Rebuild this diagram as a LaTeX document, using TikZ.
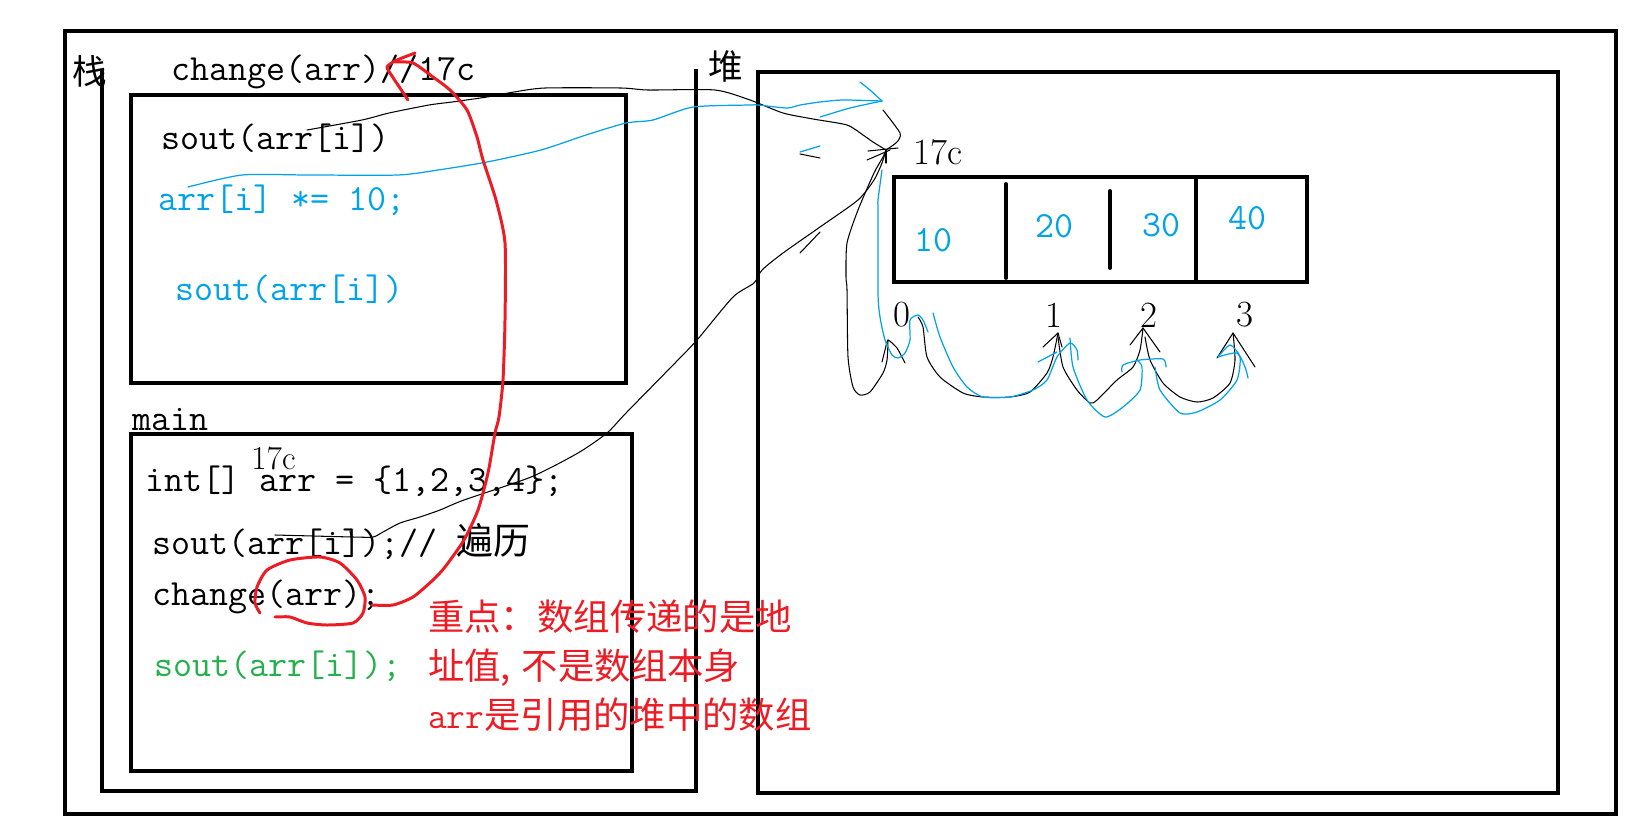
\documentclass[tikz,border=0pt]{standalone}
\usepackage{fontspec}
\newfontfamily\cjk{Noto Sans CJK SC}
\usetikzlibrary{positioning}
\definecolor{paintblue}{HTML}{00A2E8}
\definecolor{paintgreen}{HTML}{22B14C}
\definecolor{paintred}{HTML}{ED1C24}
\newcommand{\codefont}{\fontsize{21pt}{25pt}\selectfont\ttfamily}
\newcommand{\romanfont}{\fontsize{21pt}{25pt}\selectfont\rmfamily}

\begin{document}
\begin{tikzpicture}[
    x=0.02cm, y=-0.02cm,
    frame/.style={line width=2.5pt},
    cellbar/.style={line width=2.2pt, line cap=round},
    code/.style={font=\codefont, anchor=base west, inner sep=0pt},
    digit/.style={font=\codefont, inner sep=0pt},
    index/.style={font=\romanfont, inner sep=0pt},
    hanzi/.style={font=\fontsize{19.7pt}{22pt}\selectfont\cjk, inner sep=0pt},
    note/.style={font=\fontsize{20.7pt}{24pt}\selectfont\ttfamily, text=paintred, anchor=base west, inner sep=0pt},
    pen/.style={line width=0.6pt, line join=round, line cap=round},
    bluepen/.style={pen, paintblue, line width=0.7pt},
    redpen/.style={line width=1.7pt, paintred, line join=round, line cap=round}
]
    \useasboundingbox (0,0) rectangle (1652,829);
    \fill[white] (0,0) rectangle (1652,829);

    % Frames
    \draw[frame] (65,31) rectangle (1616,814);
    \draw[frame] (102,70) -- (102,791) -- (696,791) -- (696,69);
    \draw[frame] (758,72) rectangle (1558,793);
    \draw[frame] (131,95) rectangle (626,383);
    \draw[frame] (131,434) rectangle (632,771);

    % Labels
    \node[hanzi] (stack) at (90,71.5) {栈};
    \node[hanzi] (heap) at (726,66) {堆};
    \node[code] (callsig) at (171,80) {change(arr)//17c};
    \node[code] (mainlbl) at (132.6,430) {main};

    % change() body
    \node[code] (soutA) at (161,149) {sout(arr[i])};
    \node[code, text=paintblue] (times) at (158,210.7) {arr[i] *= 10;};
    \node[code, text=paintblue] (soutB) at (175,300) {sout(arr[i])};

    % main() body
    \node[index, anchor=base west, font=\fontsize{19pt}{22pt}\selectfont\rmfamily] (addrmain) at (251,469) {17c};
    \node[code] (decl) at (145.5,491.7) {int[] arr = \{1,2,3,4\};};
    \node[code] (loop) at (152.6,554) {sout(arr[i]);// {\cjk 遍历}};
    \node[code] (call) at (151.7,605) {change(arr);};
    \node[code, text=paintgreen] (soutC) at (154,676.7) {sout(arr[i]);};

    % Note
    \node[note] (noteA) at (427.8,630) {{\cjk 重点：数组传递的是地}};
    \node[note] (noteB) at (427.8,679) {{\cjk 址值,\kern0.3em 不是数组本身}};
    \node[note] (noteC) at (427.8,728) {arr{\cjk 是引用的堆中的数组}};

    % Array in the heap
    \draw[frame] (894,177) rectangle (1307,282);
    \draw[cellbar] (1006,184) -- (1006,278);
    \draw[cellbar] (1110,191) -- (1110,268);
    \draw[cellbar] (1196,177) -- (1196,282);
    \node[index, anchor=base west] (addrheap) at (913,164) {17c};
    \node[digit, text=paintblue] (v0) at (933.6,240) {10};
    \node[digit, text=paintblue] (v1) at (1054.8,226.7) {20};
    \node[digit, text=paintblue] (v2) at (1161.4,225) {30};
    \node[digit, text=paintblue] (v3) at (1247.7,218.3) {40};
    \node[index] (i0) at (902,315) {0};
    \node[index] (i1) at (1054,315) {1};
    \node[index] (i2) at (1149,315) {2};
    \node[index] (i3) at (1245,315) {3};

    \coordinate (addr) at (886,150);

    % Black pointer lines
    \draw[pen] plot[smooth, tension=0.4] coordinates {(275,535) (353,537) (373,537) (383,532) (400,523) (420,517) (440,510) (464,500) (531,477) (578,453) (607,433) (626,413) (675,363) (697,340) (733,297) (754,283) (762,270) (783,253) (820,227) (858,200) (874,180) (882,163) (addr)};
    \draw[pen] (350,531) -- (352,542);
    \draw[pen] plot[smooth, tension=0.4] coordinates {(307,130) (362,120) (389,113) (429,105) (452,102) (487,97) (514,92) (545,88) (621,88) (648,90) (715,90) (750,100) (783,113) (813,119) (847,125) (863,135) (873,142) (addr)};
    \draw[pen] plot[smooth, tension=0.4] coordinates {(883,110) (900,133) (897,142) (addr)};
    \draw[pen] (868,151) -- (898,148);
    \draw[pen] (886,150) -- (886,163);
    \draw[pen] (867,160) -- (890,150);
    \draw[pen] (800,154) -- (820,158);
    \draw[pen] (800,253) -- (820,232);

    % Black index arcs
    \draw[pen] plot[smooth, tension=0.4] coordinates {(addr) (883,157) (874,173) (858,210) (847,243) (846,277) (847,290) (848,357) (853,387) (860,395) (870,392) (883,373) (887,360) (888,340)};
    \draw[pen] plot[smooth, tension=0.3] coordinates {(882,362) (885,350) (888,340) (897,348) (905,363)};
    \draw[pen] plot[smooth, tension=0.4] coordinates {(918,317) (923,327) (927,357) (940,377) (963,393) (983,397) (1010,397) (1030,392) (1047,373) (1053,357) (1058,333)};
    \draw[pen] (1043,347) -- (1058,333) -- (1062,347);
    \draw[pen] plot[smooth, tension=0.4] coordinates {(1058,337) (1063,367) (1077,390) (1090,403) (1097,400) (1117,380) (1133,367) (1140,350) (1143,328)};
    \draw[pen] (1130,345) -- (1143,328) -- (1160,352);
    \draw[pen] plot[smooth, tension=0.4] coordinates {(1145,337) (1150,360) (1163,383) (1180,397) (1197,402) (1213,398) (1230,383) (1235,360) (1233,333)};
    \draw[pen] (1217,358) -- (1233,333) -- (1255,367);

    % Blue pointer line
    \draw[bluepen] plot[smooth, tension=0.4] coordinates {(188,187) (242,175) (309,175) (398,175) (438,170) (487,162) (541,150) (586,135) (626,123) (653,120) (693,107) (750,105) (758,105) (787,108) (800,105) (820,102) (843,100) (882,101)};
    \draw[bluepen] plot[smooth, tension=0.4] coordinates {(860,82) (870,90) (882,101)};
    \draw[bluepen] plot[smooth, tension=0.4] coordinates {(882,101) (850,108) (820,117)};
    \draw[bluepen] (800,152) -- (820,146);

    % Blue index arcs
    \draw[bluepen] plot[smooth, tension=0.4] coordinates {(882,170) (878,200) (878,210) (878,293) (880,317) (885,340) (892,355) (898,358) (905,353) (910,340) (910,320) (918,315) (923,320) (928,332)};
    \draw[bluepen] plot[smooth, tension=0.4] coordinates {(933,313) (940,337) (953,367) (967,387) (983,397) (1010,397) (1033,390) (1047,380) (1057,357) (1070,343) (1077,350) (1078,360)};
    \draw[bluepen] (1038,362) -- (1057,352);
    \draw[bluepen] plot[smooth, tension=0.4] coordinates {(1070,338) (1073,367) (1087,400) (1105,417) (1123,407) (1140,390) (1142,367) (1137,360)};
    \draw[bluepen] plot[smooth, tension=0.4] coordinates {(1122,372) (1123,365) (1140,360) (1163,359) (1166,367)};
    \draw[bluepen] plot[smooth, tension=0.4] coordinates {(1155,367) (1160,390) (1180,413) (1197,412) (1220,400) (1237,380) (1240,357) (1230,345) (1218,357)};
    \draw[bluepen] plot[smooth, tension=0.4] coordinates {(1218,357) (1237,353) (1245,367) (1248,378)};

    % Red pass-by-reference mark
    \draw[redpen] plot[smooth, tension=0.4] coordinates {(408,100) (390,73) (387,67) (393,62) (402,58) (415,53)};
    \draw[redpen] plot[smooth, tension=0.4] coordinates {(395,62) (413,63) (433,77) (450,90) (467,110) (477,137) (483,160) (496,200) (505,243) (505,320) (503,380) (499,417) (495,433) (488,473) (478,510) (464,540) (445,567) (433,580) (413,597) (393,605) (372,605)};
    \draw[redpen] plot[smooth, tension=0.4] coordinates {(275,617) (290,617) (307,623) (327,625) (353,623) (363,613) (365,597) (357,580) (340,563) (320,557) (290,560) (267,570) (257,587) (255,603) (260,613)};
\end{tikzpicture}
\end{document}
